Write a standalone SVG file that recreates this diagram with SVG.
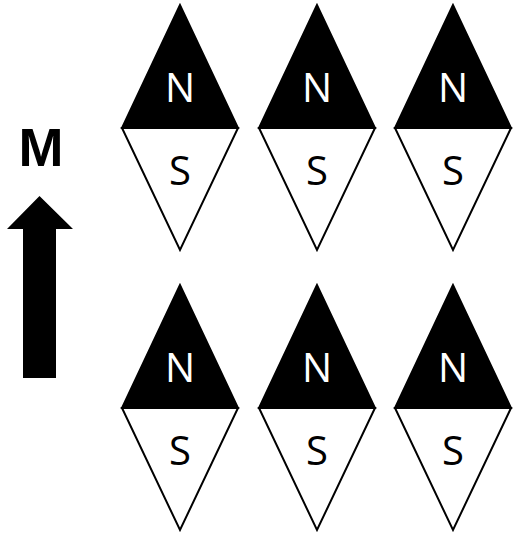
<svg xmlns="http://www.w3.org/2000/svg" width="514" height="533" viewBox="0 0 514 533">
<style>
.n{fill:#000;stroke:#000;stroke-width:2;stroke-linejoin:miter}
.s{fill:#fff;stroke:#000;stroke-width:2;stroke-linejoin:miter}
.t{font-family:"Open Sans","Liberation Sans",Arial,sans-serif;font-size:40px;text-anchor:middle}
.tn{fill:#fff}
.ts{fill:#000}
</style>
<defs>
<g id="needle">
<polygon class="n" points="0,-123 -58,0 58,0"/>
<polygon class="s" points="-58,0 58,0 0,122"/>
<text class="t tn" x="0" y="-26">N</text>
<text class="t ts" x="0" y="57">S</text>
</g>
</defs>
<rect width="514" height="533" fill="#fff"/>
<g id="m-arrow">
<text x="41" y="166" font-family="Liberation Sans,Arial,sans-serif" font-weight="bold" font-size="54" text-anchor="middle">M</text>
<polygon points="39.5,196 73,229 56,229 56,378 23,378 23,229 7,229" fill="#000"/>
</g>
<g id="needle-r1c1"><use href="#needle" x="180" y="128"/></g>
<g id="needle-r1c2"><use href="#needle" x="317" y="128"/></g>
<g id="needle-r1c3"><use href="#needle" x="453" y="128"/></g>
<g id="needle-r2c1"><use href="#needle" x="180" y="408"/></g>
<g id="needle-r2c2"><use href="#needle" x="317" y="408"/></g>
<g id="needle-r2c3"><use href="#needle" x="453" y="408"/></g>
<g id="connectors"/>
</svg>
